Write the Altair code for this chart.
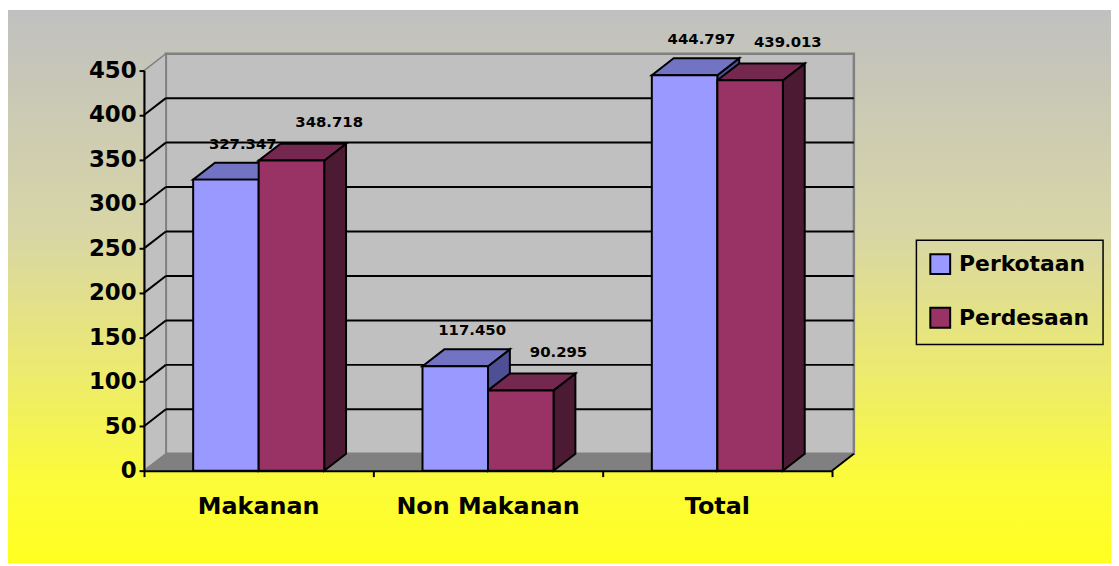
import altair as alt
import pandas as pd

# ---- data ----
categories = ["Makanan", "Non Makanan", "Total"]
series = ["Perkotaan", "Perdesaan"]
perkotaan = [327.347, 117.450, 444.797]
perdesaan = [348.718, 90.295, 439.013]
y_ticks = [0, 50, 100, 150, 200, 250, 300, 350, 400, 450]

# ---- style / geometry constants ----
W, H = 693, 403
PAD = {"left": 137, "top": 61, "right": 281, "bottom": 93}
XMAX = len(categories)
YMAX = y_ticks[-1]
DX = 22 / (W / XMAX)          # 3D depth, x units
DY = 17 * YMAX / H            # 3D depth, y units
BW = 66 / (W / XMAX)          # bar width, x units
FONT = "DejaVu Sans"
front_colors = ["#9999ff", "#993366"]
shade_domain = ["Perkotaan-top", "Perkotaan-side", "Perdesaan-top", "Perdesaan-side"]
shade_range = ["#7373c4", "#4f4f96", "#74284f", "#4d1a33"]

xs = alt.Scale(domain=[0, XMAX], nice=False, zero=False)
ys = alt.Scale(domain=[0, YMAX], nice=False)
x_axis = alt.Axis(values=list(range(XMAX + 1)), labels=False, tickSize=6, tickWidth=2,
                  tickColor="black", domainColor="black", domainWidth=2, grid=False,
                  title=None, zindex=2)
y_axis = alt.Axis(values=y_ticks, tickSize=5, tickWidth=2, tickColor="black",
                  domainColor="black", domainWidth=2, grid=False, title=None, labelPadding=3,
                  format="d", zindex=2)

def X(field):
    return alt.X(field, type="quantitative", scale=xs, axis=x_axis)

def Y(field):
    return alt.Y(field, type="quantitative", scale=ys, axis=y_axis)

# ---- derived tables ----
fronts, tops, sides = [], [], []
for i, cat in enumerate(categories):
    c = i + 0.5
    for s, vals in zip(series, [perkotaan, perdesaan]):
        v = vals[i]
        x0, x1 = (c - BW, c) if s == series[0] else (c, c + BW)
        fronts.append({"cat": cat, "series": s, "value": v, "x0": x0, "x1": x1, "base": 0,
                       "xm": (x0 + x1) / 2})
        bid = f"{i}{series.index(s)}"
        for xx, ya, yb in [(x0, v, v), (x0 + DX, v + DY, v), (x1, v + DY, v), (x1 + DX, v + DY, v + DY)]:
            tops.append({"id": bid, "shade": s + "-top", "x": xx, "y": ya, "y2": yb})
        for xx, ya, yb in [(x1, v, 0), (x1 + DX, v + DY, DY)]:
            sides.append({"id": bid, "shade": s + "-side", "x": xx, "y": ya, "y2": yb})
fronts = pd.DataFrame(fronts)
tops = pd.DataFrame(tops)
sides = pd.DataFrame(sides)

grid_rows = []
for v in y_ticks[1:-1]:
    grid_rows.append({"x": DX, "x2": XMAX + DX, "y": v + DY, "y2": v + DY})
    grid_rows.append({"x": 0, "x2": DX, "y": v, "y2": v + DY})
grid_rows.append({"x": XMAX, "x2": XMAX + DX, "y": 0, "y2": DY})
grid = pd.DataFrame(grid_rows)

backwall = pd.DataFrame([{"x": DX, "x2": XMAX + DX, "y": DY, "y2": YMAX + DY}])
leftwall = pd.DataFrame([{"x": 0, "y": YMAX, "y2": 0}, {"x": DX, "y": YMAX + DY, "y2": DY}])
floor = pd.DataFrame([{"x": 0, "y": 0, "y2": 0}, {"x": DX, "y": DY, "y2": 0},
                      {"x": XMAX, "y": DY, "y2": 0}, {"x": XMAX + DX, "y": DY, "y2": DY}])
cats = pd.DataFrame({"cat": categories, "xc": [i + 0.5 for i in range(len(categories))]})

# ---- layers ----
bg = alt.Chart(alt.Data(values=[{"a": 1}])).mark_rect(
    fill=alt.Gradient(gradient="linear", x1=0, x2=0, y1=0, y2=1, stops=[
        alt.GradientStop(offset=0, color="#c0c0c0"),
        alt.GradientStop(offset=0.4, color="#d8d6a6"),
        alt.GradientStop(offset=0.65, color="#ecea70"),
        alt.GradientStop(offset=0.85, color="#fbfb3a"),
        alt.GradientStop(offset=1, color="#ffff20"),
    ])
).encode(x=alt.value(-PAD["left"]), x2=alt.value(W + PAD["right"]),
         y=alt.value(-PAD["top"]), y2=alt.value(H + PAD["bottom"]))

wall = alt.Chart(backwall).mark_rect(fill="#c0c0c0", stroke="#808080", strokeWidth=2.5).encode(
    x=X("x"), x2="x2", y=Y("y"), y2="y2")
lwall = alt.Chart(leftwall).mark_area(orient="vertical", fill="#c0c0c0", stroke="#808080",
                                      strokeWidth=1.5).encode(x=X("x"), y=Y("y"), y2="y2")
flr = alt.Chart(floor).mark_area(orient="vertical", fill="#808080", stroke="#808080",
                                 strokeWidth=1).encode(x=X("x"), y=Y("y"), y2="y2")
gridl = alt.Chart(grid).mark_rule(color="black", strokeWidth=2).encode(
    x=X("x"), x2="x2", y=Y("y"), y2="y2")

fill_enc = alt.Fill("shade:N", scale=alt.Scale(domain=shade_domain, range=shade_range), legend=None)
side_l = alt.Chart(sides).mark_area(orient="vertical", stroke="black", strokeWidth=2,
                                    strokeJoin="miter").encode(
    x=X("x"), y=Y("y"), y2="y2", detail="id:N", fill=fill_enc)
top_l = alt.Chart(tops).mark_area(orient="vertical", stroke="black", strokeWidth=2,
                                  strokeJoin="miter").encode(
    x=X("x"), y=Y("y"), y2="y2", detail="id:N", fill=fill_enc)

front_l = alt.Chart(fronts).mark_rect(stroke="black", strokeWidth=2).encode(
    x=X("x0"), x2="x1", y=Y("value"), y2="base",
    color=alt.Color("series:N", scale=alt.Scale(domain=series, range=front_colors),
                    legend=alt.Legend(orient="none", legendX=778, legendY=171, title=None,
                                      symbolType="square", symbolSize=400,
                                      symbolStrokeColor="black", symbolStrokeWidth=2,
                                      labelFont=FONT, labelFontSize=22, labelFontWeight="bold",
                                      labelColor="black", padding=13, rowPadding=26,
                                      strokeColor="black", labelOffset=8)))

lab_k = alt.Chart(fronts).transform_filter(alt.datum.series == series[0]).mark_text(
    font=FONT, fontSize=15, fontWeight="bold", color="black", baseline="middle",
    align="center", dx=17, dy=-36).encode(x=X("xm"), y=Y("value"), text=alt.Text("value:Q", format=".3f"))
lab_d = alt.Chart(fronts).transform_filter(alt.datum.series == series[1]).mark_text(
    font=FONT, fontSize=15, fontWeight="bold", color="black", baseline="middle",
    align="center", dx=38, dy=-39).encode(x=X("xm"), y=Y("value"), text=alt.Text("value:Q", format=".3f"))

cat_l = alt.Chart(cats).mark_text(font=FONT, fontSize=24, fontWeight="bold", color="black",
                                  baseline="middle", align="center").encode(
    x=X("xc"), y=alt.value(H + 37), text="cat:N")

chart = alt.layer(bg, wall, lwall, flr, gridl, side_l, top_l, front_l, lab_k, lab_d, cat_l).properties(
    width=W, height=H, autosize=alt.AutoSizeParams(type="none"), padding=PAD, background="white"
).configure_view(stroke=None).configure_axis(
    labelFont=FONT, labelFontSize=23, labelFontWeight="bold", labelColor="black"
).configure_legend(strokeWidth=1.5)

chart.save("out.html", embed_options={"renderer": "svg", "actions": False})
